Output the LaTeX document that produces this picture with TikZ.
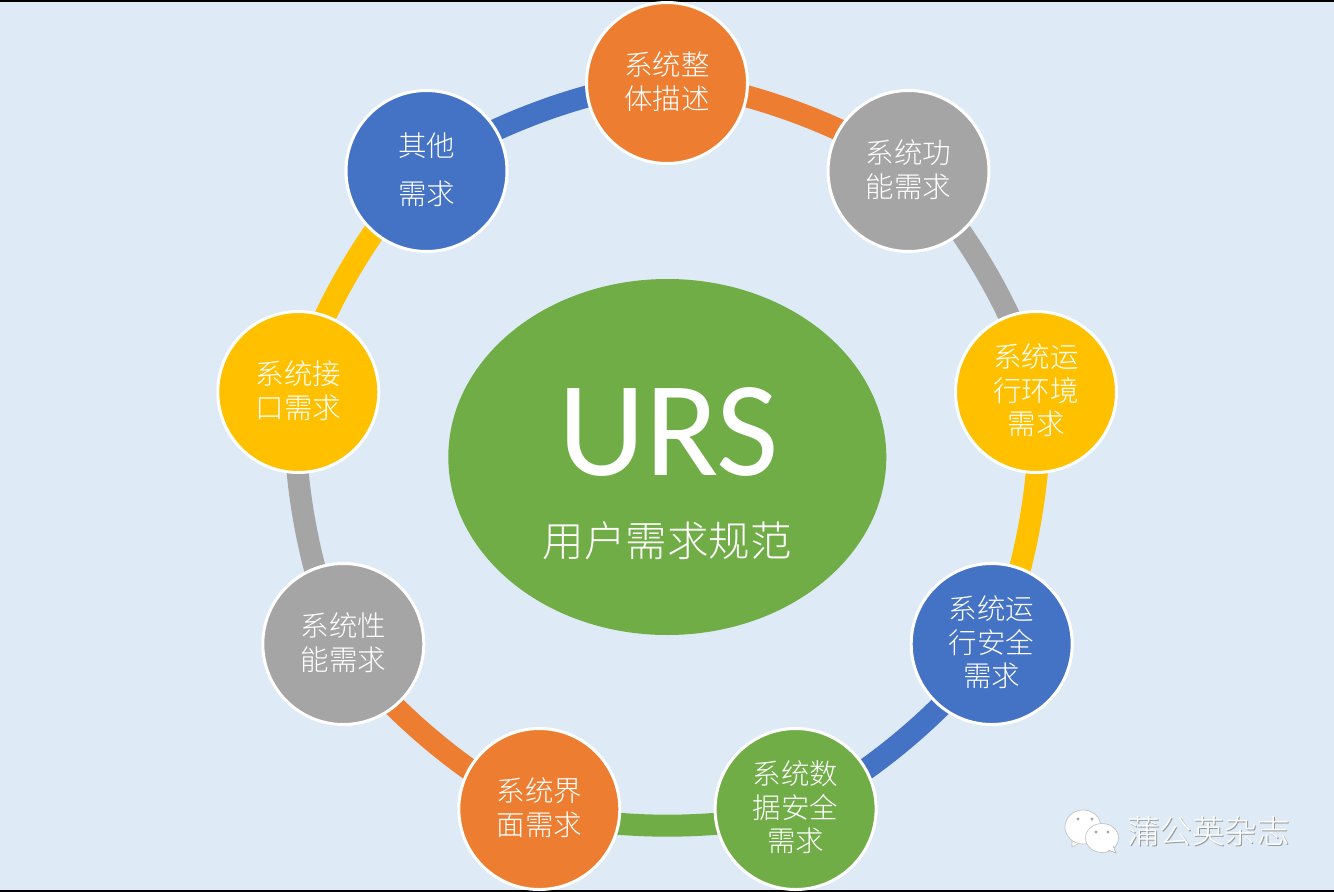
\documentclass[tikz,border=0pt]{standalone}
\usepackage{fontspec}
\setmainfont{Carlito}
\newfontfamily\cjk[UprightFont=* Light,BoldFont=*]{Noto Sans CJK SC}
\usetikzlibrary{backgrounds,shapes.geometric}
\definecolor{bgblue}{HTML}{DEEAF6}
\definecolor{cblue}{HTML}{4472C4}
\definecolor{corange}{HTML}{ED7D31}
\definecolor{cgray}{HTML}{A5A5A5}
\definecolor{cyellow}{HTML}{FFC000}
\definecolor{cgreen}{HTML}{70AD47}
\tikzset{
  ringnode/.style={circle,draw=white,line width=3pt,minimum size=161pt,inner sep=0pt,text=white,align=center,
    text depth=5pt,font=\cjk\fontsize{28.5}{33.5}\selectfont},
  ringarc/.style={line width=22pt,bend left=20,looseness=0.65},
}
\begin{document}
\begin{tikzpicture}[x=1pt,y=-1pt]
\useasboundingbox (0,0) rectangle (1334,892);
\node[ringnode,fill=corange] (n1) at (667,83) {系统整\\体描述};
\node[ringnode,fill=cgray] (n2) at (908.5,171) {系统功\\能需求};
\node[ringnode,fill=cyellow] (n3) at (1036,392) {系统运\\行环境\\需求};
\node[ringnode,fill=cblue] (n4) at (991.7,644) {系统运\\行安全\\需求};
\node[ringnode,fill=cgreen] (n5) at (795.6,809) {系统数\\据安全\\需求};
\node[ringnode,fill=corange] (n6) at (539.3,809) {系统界\\面需求};
\node[ringnode,fill=cgray] (n7) at (343.3,644) {系统性\\能需求};
\node[ringnode,fill=cyellow] (n8) at (298.3,392) {系统接\\口需求};
\node[ringnode,fill=cblue] (n9) at (426.5,171) {其他\\[14pt]需求};
\node[ellipse,fill=cgreen,minimum width=438pt,minimum height=356pt,inner sep=0pt] (core) at (667.3,457) {};
\node[text=white,inner sep=0pt,font=\fontsize{135.5}{135.5}\selectfont] (urs) at (668.5,432) {URS};
\node[text=white,inner sep=0pt,font=\cjk\fontsize{41.5}{41.5}\selectfont] (ursname) at (667,541) {用户需求规范};
\node[text=gray!80,inner sep=0pt,font=\cjk\fontsize{32.5}{32.5}\selectfont] (wmshadow) at (1209.6,832.6) {蒲公英杂志};
\node[text=white,inner sep=0pt,font=\cjk\fontsize{32.5}{32.5}\selectfont] (wm) at (1208.5,831.5) {蒲公英杂志};
% logo
\path[fill=white,draw=gray!50,line width=.6pt] (1072,840) -- (1072,847) -- (1082,842) -- cycle;
\path[fill=white,draw=gray!50,line width=.6pt] (1083,827) ellipse (18 and 17);
\path[fill=white,draw=gray!50,line width=.6pt] (1102,838) ellipse (16.5 and 14.5);
\path[fill=white,draw=gray!60,line width=.6pt] (1108,850) -- (1116,853) -- (1113,846);
\foreach \p in {(1078,819),(1092,819),(1096,832),(1108,832)} \fill[gray!70] \p circle (1.6);
\begin{scope}[on background layer]
  \fill[bgblue] (0,0) rectangle (1334,892);
  \fill[black] (0,0) rectangle (1334,1.5);
  \fill[black] (0,889.5) rectangle (1334,892);
  \draw[ringarc,draw=cblue] (n9.center) to (n1.center);
  \draw[ringarc,draw=corange] (n1.center) to (n2.center);
  \draw[ringarc,draw=cgray] (n2.center) to (n3.center);
  \draw[ringarc,draw=cyellow] (n3.center) to (n4.center);
  \draw[ringarc,draw=cblue] (n4.center) to (n5.center);
  \draw[ringarc,draw=cgreen] (n5.center) to (n6.center);
  \draw[ringarc,draw=corange] (n6.center) to (n7.center);
  \draw[ringarc,draw=cgray] (n7.center) to (n8.center);
  \draw[ringarc,draw=cyellow] (n8.center) to (n9.center);
\end{scope}
\end{tikzpicture}
\end{document}
